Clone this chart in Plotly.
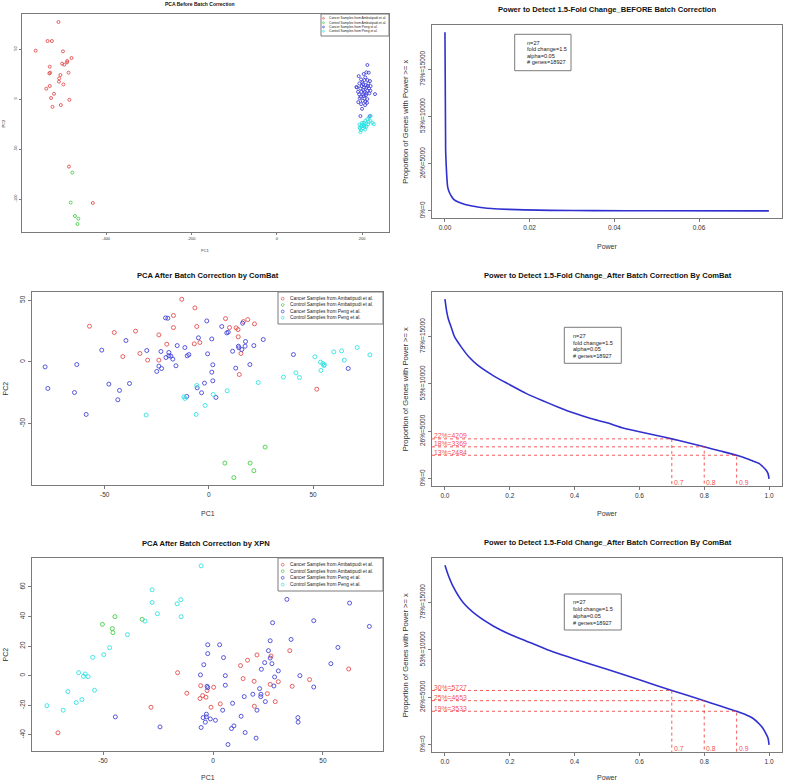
import plotly.graph_objects as go

W, H = 785, 784
FONT = "Liberation Sans"

# ---------------- data ----------------
legend_labels = ["Cancer Samples from Ambatipudi et al.", "Control Samples from Ambatipudi et al.",
                 "Cancer Samples from Peng et al.", "Control Samples from Peng et al."]
group_colors = ["rgba(228,70,70,0.85)", "rgba(60,205,60,0.85)", "rgba(60,60,215,0.85)", "rgba(40,225,225,0.85)"]

# Panel 1: PCA before batch correction
p1_ca_x = [-511.5, -537, -527, -565, -501, -481, -491, -491.5, -503, -498, -532, -488, -531, -533, -507, -510,
           -510.5, -500, -532, -540, -522, -529, -486, -506, -525.5, -487, -431]
p1_ca_y = [77, 58, 58, 48.3, 47.7, 41, 38, 36.6, 35.3, 34.3, 32.3, 26.3, 26.3, 25.6, 24, 20.6, 17.3, 14.6, 13,
           10.3, 5.2, 1, -0.8, -6, -7.8, -67.6, -104]
p1_ct_x = [-479, -483, -473, -465, -467]
p1_ct_y = [-73.6, -103.6, -117, -119.7, -125]
p1_pc_x = [212.3, 192, 203.7, 210, 215.4, 197.5, 205.3, 212.3, 218.5, 193.6, 202.2, 208.4, 213, 188, 196, 204.5,
           210, 216.2, 198.3, 206, 212.3, 219.3, 193, 202.2, 209.2, 230.2, 196.7, 205.3, 212.3, 201.4, 207.6, 191,
           197.5, 206.8, 199.8, 196, 217.8, 210, 203, 199, 214.6, 190.5, 220, 207.6, 200.6, 194.4, 211.5, 186.6,
           203.7, 217]
p1_pc_y = [34, 22.9, 25, 26.6, 26.3, 19.6, 18.9, 18.9, 17.9, 15.6, 14.9, 13.9, 12.9, 11.6, 10.6, 11.6, 11.6,
           10.6, 7.2, 7.2, 8.3, 8.3, 4.6, 4.6, 3.9, 4.9, 2.2, 0.6, -0.1, -1.8, -2.8, -3.1, -5.1, -6.1, -9.8, -17.1,
           -17.1, 5.6, 8.9, 12.9, 15.6, 7.2, 12.9, 21.6, 16.6, 0.6, -3.8, 12, 2.9, 5.6]
p1_pt_x = [220, 216.2, 212.3, 207.6, 204.5, 198.3, 194.4, 199.8, 205.3, 210, 202.2, 197.5, 196, 206.8, 213.9,
           224, 227.1, 219.3, 199.8, 203, 193.6, 209.2, 215.4, 195.1, 206]
p1_pt_y = [-16.8, -18.5, -20.1, -21.8, -23.8, -26.2, -28.5, -27.2, -26.8, -27.8, -29.5, -31.2, -33.2, -30.5,
           -25.2, -23.8, -25.2, -21.8, -23.8, -26.2, -25.5, -24.5, -22.8, -29.5, -27.8]

# Panel 3: PCA after ComBat
p3_ca_x = [-13, -6.7, -57.3, -17, 8, -45.4, -35.2, -24, -17, -5.8, 9.9, 13.1, 14, 16.6, 18.7, 21.9, 14.1, -20.2,
           -7, -4.3, -33.1, -41.3, -29.4, -24, 15.4, 14.6, 51.8]
p3_ca_y = [50.8, 43.8, 28.9, 37.6, 35.1, 23.8, 24.9, 21.9, 27.8, 28.7, 27.8, 27.6, 26.2, 32.7, 34.3, 30.8, 20.3,
           14.3, 14.6, 15.7, 6.8, 4.3, 1.4, 1.4, 6.8, -10.3, -22.2]
p3_ct_x = [27, 7.7, 19.8, 21.6, 12]
p3_ct_y = [-69.2, -82.2, -82.2, -88.4, -94]
p3_pc_x = [-78.6, -77.3, -63.4, -64.5, -58.9, -51.4, -48, -42.9, -43.7, -39.8, -38.1, -29.8, -25, -24, -22.7, -23,
           -20.6, -19.2, -19.2, -18.2, -17.3, -15.8, -15.2, -11.5, -10.4, -9.6, -20.8, -19.7, -10.6, -5, -3.5,
           -2.1, -1, -0.6, 1.4, 1.4, 1.9, 1.9, 3.4, 6.2, 8.6, 9.3, 11.4, 12.9, 14.2, 14.4, 15.8, 16.2, 17.6, 17.4,
           19.7, 21.6, 26.1, 40.6, 66.9, -5.6]
p3_pc_y = [-4.1, -21.6, -2.2, -24.9, -42.7, 9.5, -18.1, -23.2, -30.8, 17.3, -17.6, 9.2, -7.8, -3.5, -5.4, 8.4,
           3.5, 7.6, 4.9, 4.6, 2.2, -3.2, 13.2, 11.6, 4.9, 5.9, 35.7, 35.4, -28.1, 19.5, -25.1, -17.3, 33.2, 6.5,
           18.6, -8.4, -2.4, -15.4, -28.9, 28.7, 23.5, 24.1, 8.6, -5.1, 12.7, 11.4, 10, 31.4, 16.5, 12.7, -2.2,
           13.2, 18.1, 5.9, -5.4, -21.1]
p3_pt_x = [-30.1, -12, -11.5, -5.8, -6.1, 2.1, -1.8, 8.8, 23.7, 35.8, 41.8, 43.5, 50.9, 53.6, 54.7, 55.2, 53.8,
           60, 63.7, 65, 71.2, 77.3, 55.5]
p3_pt_y = [-43.2, -28.4, -29.7, -19.2, -42.7, -26.5, -35.4, -23.5, -16.8, -12.4, -8.9, -12.7, 4.1, -0.3, -1.4,
           -3, -7, 8.1, 8.9, 1.4, 11.6, 5.7, -2.4]

# Panel 5: PCA after XPN
p5_ca_x = [-70.5, -28.2, -16.1, -11.9, -5.6, -5.9, -4.7, -3.2, -2.7, 0.3, -0.9, 3.3, 12.5, 13.7, 15.7, 20, 18.7,
           18.8, 24.7, 26, 26.4, 28.3, 29.7, 34.9, 36, 43.9, 61.7]
p5_ca_y = [-38.7, -21.4, 2, -11.9, -6.8, -15.5, -13.5, -14.6, -10.1, -7.9, -21.4, -19.1, 6.8, -2, 10.4, 14, -3.8,
           -20.7, -12.2, -5.9, 13.3, -17.6, -4.1, 16.9, -7.2, -2.7, 4.5]
p5_ct_x = [-50.3, -44.6, -45.8, -45.5, -32.2]
p5_ct_y = [34.7, 39.9, 31.8, 29.1, 38.1]
p5_pc_x = [-44.4, -24.1, -5.4, -5.7, -4.2, -2.4, -2.4, -2.7, -2.4, -3, -3, -4.5, -3.5, -1.2, 1.1, 3, 4.8, 5.6,
           5.6, 4.4, 6.8, 8.4, 8.9, 9.5, 12.8, 14.2, 14.6, 18.1, 19.6, 20, 21.2, 21.7, 21.8, 22, 23.5, 23.8, 25.2,
           26, 26, 26.8, 27.1, 28, 27.7, 29.7, 33.6, 35.5, 38.6, 38.7, 39.5, 45.8, 45.8, 56.8, 53.6, 62.1, 71.1]
p5_pc_y = [-27.9, -34.7, -35.1, 0.5, 7.4, 14.9, 20.9, -7.2, -8.1, -26.1, -27.9, -28.4, -31.5, -29.3, -30.2, 20.9,
           12.2, 0, -6.5, -23.4, -46.6, -35.8, -18.7, -34, -27.5, -14.2, -38.5, -12.6, -42.3, -23.4, -8.8, -14.2,
           -12.6, 4.3, 8.8, -17.6, 16.9, 23.6, 11.9, 8.1, 35.8, -0.9, -7, 3.2, 51.6, 24.5, -28.4, -31.5, 0, 37.2,
           -7.7, 19.1, 8.1, 49.1, 33.3]
p5_pt_x = [-5.4, -27.7, -27.7, -14.6, -16.3, -14.5, -25.3, -30.9, -38.9, -47, -49.7, -54.7, -61.1, -58.1, -58.9,
           -56.8, -53.9, -66, -62.2, -59.6, -75.5, -68.1]
p5_pt_y = [74.3, 58.1, 49.5, 51.4, 48.6, 39.9, 41.9, 36.9, 27.7, 18.9, 14.2, 12.4, 2, 1.1, -0.5, -0.7, -9.9,
           -10.8, -18.2, -16.2, -20.3, -23.4]

# Power curves: number of genes with power >= x
p2_power = [0, 0.00016, 0.00024, 0.0004, 0.00063, 0.001, 0.00157, 0.002, 0.003, 0.0039, 0.005, 0.0071, 0.009,
            0.011, 0.015, 0.0188, 0.025, 0.035, 0.05, 0.0765]
p2_genes = [18927, 6459, 5400, 3900, 2576, 2000, 1518, 1250, 960, 812, 650, 459, 330, 247, 160, 106, 55, 25, 8, 0]

p4_power = [0, 0.005, 0.01, 0.02, 0.029, 0.05, 0.075, 0.1, 0.15, 0.195, 0.25, 0.3, 0.35, 0.4, 0.45, 0.5, 0.55,
            0.6, 0.65, 0.7, 0.75, 0.8, 0.85, 0.9, 0.93, 0.95, 0.97, 0.98, 0.99, 0.997, 1.0]
p4_genes = [18927, 17700, 16900, 15900, 15000, 13900, 12800, 12000, 10850, 10000, 9000, 8250, 7550, 6900, 6350,
            5900, 5350, 4950, 4600, 4209, 3800, 3369, 2930, 2484, 2150, 1880, 1600, 1300, 950, 550, 0]

p6_power = [0, 0.01, 0.025, 0.056, 0.1, 0.15, 0.2, 0.25, 0.318, 0.4, 0.5, 0.6, 0.7, 0.8, 0.9, 0.93, 0.95, 0.97,
            0.98, 0.99, 0.997, 1.0]
p6_genes = [18927, 17900, 16700, 15000, 13600, 12500, 11650, 10950, 10000, 9050, 7950, 6850, 5727, 4653, 3533,
            3150, 2800, 2200, 1800, 1200, 700, 0]

p4_cut_power = [0.7, 0.8, 0.9]
p4_cut_genes = [4209, 3369, 2484]
p4_cut_labels = ["22%=4209", "18%=3369", "13%=2484"]
p6_cut_power = [0.7, 0.8, 0.9]
p6_cut_genes = [5727, 4653, 3533]
p6_cut_labels = ["30%=5727", "25%=4653", "19%=3533"]

power_yticks = [0, 5000, 10000, 15000]
power_yticklabels = ["0%=0", "26%=5000", "53%=10000", "79%=15000"]
info_lines = ["n=27", "fold change=1.5", "alpha=0.05", "# genes=18927"]

titles = ["PCA Before Batch Correction",
          "Power to Detect 1.5-Fold Change_BEFORE Batch Correction",
          "PCA After Batch Correction by ComBat",
          "Power to Detect 1.5-Fold Change_After Batch Correction By ComBat",
          "PCA After Batch Correction by XPN",
          "Power to Detect 1.5-Fold Change_After Batch Correction By ComBat"]


# ---------------- helpers ----------------
def fx(px):
    return px / W


def fy(py):
    return 1 - py / H


fig = go.Figure()
annotations = []
shapes = []

FRAME = "#7a7a7a"
TICKC = "#333333"
CURVE = "#3030d0"
RED = "rgba(240,40,40,0.85)"

# plot boxes in pixels (left, right, top, bottom)
boxes = {
    1: (22, 389, 14, 232),
    2: (432, 782, 25, 218),
    3: (32, 383, 292, 485),
    4: (432, 782, 292, 486),
    5: (32, 383, 558, 751),
    6: (432, 782, 558, 752),
}
ranges = {
    1: ([-597, 263], [-133, 85]),
    2: ([-0.00306, 0.0796], [-757, 19684]),
    3: ([-84.9, 83.6], [-100, 56.7]),
    4: ([-0.04, 1.04], [-757, 19684]),
    5: ([-82.3, 77.3], [-51, 79.6]),
    6: ([-0.04, 1.04], [-757, 19684]),
}
xticks = {
    1: ([-400, -200, 0, 200], ["-400", "-200", "0", "200"]),
    2: ([0, 0.02, 0.04, 0.06], ["0.00", "0.02", "0.04", "0.06"]),
    3: ([-50, 0, 50], ["-50", "0", "50"]),
    4: ([0, 0.2, 0.4, 0.6, 0.8, 1.0], ["0.0", "0.2", "0.4", "0.6", "0.8", "1.0"]),
    5: ([-50, 0, 50], ["-50", "0", "50"]),
    6: ([0, 0.2, 0.4, 0.6, 0.8, 1.0], ["0.0", "0.2", "0.4", "0.6", "0.8", "1.0"]),
}
yticks = {
    1: ([-100, -50, 0, 50], ["-100", "-50", "0", "50"]),
    2: (power_yticks, power_yticklabels),
    3: ([-50, 0, 50], ["-50", "0", "50"]),
    4: (power_yticks, power_yticklabels),
    5: ([-40, -20, 0, 20, 40, 60], ["-40", "-20", "0", "20", "40", "60"]),
    6: (power_yticks, power_yticklabels),
}

layout_axes = {}
for i in range(1, 7):
    l, r, t, b = boxes[i]
    fs = 4 if i == 1 else 6.5
    tl = 2 if i == 1 else 3
    xs = "" if i == 1 else str(i)
    layout_axes["xaxis" + xs] = dict(
        domain=[fx(l), fx(r)], range=ranges[i][0], anchor="y" + xs,
        tickvals=xticks[i][0], ticktext=xticks[i][1], tickfont=dict(size=fs, color=TICKC, family=FONT),
        showline=True, mirror=True, linecolor=FRAME, linewidth=1, ticks="outside", ticklen=tl,
        tickcolor=FRAME, showgrid=False, zeroline=False)
    layout_axes["yaxis" + xs] = dict(
        domain=[fy(b), fy(t)], range=ranges[i][1], anchor="x" + xs,
        tickvals=yticks[i][0], ticktext=yticks[i][1], tickfont=dict(size=fs, color=TICKC, family=FONT),
        tickangle=-90,
        showline=True, mirror=True, linecolor=FRAME, linewidth=1, ticks="outside", ticklen=tl,
        tickcolor=FRAME, showgrid=False, zeroline=False)


def txt(text, x, y, size, color="#222222", bold=False, angle=0, xanchor="center", yanchor="middle",
        xref="paper", yref="paper", yshift=0):
    if xref == "paper":
        x = fx(x)
    if yref == "paper":
        y = fy(y)
    annotations.append(dict(
        text="<b>%s</b>" % text if bold else text, x=x, y=y, xref=xref, yref=yref, showarrow=False,
        xanchor=xanchor, yanchor=yanchor, textangle=angle, yshift=yshift,
        font=dict(size=size, color=color, family=FONT)))


# ---------------- PCA scatter traces ----------------
pca_sets = {
    1: [(p1_ca_x, p1_ca_y), (p1_ct_x, p1_ct_y), (p1_pc_x, p1_pc_y), (p1_pt_x, p1_pt_y)],
    3: [(p3_ca_x, p3_ca_y), (p3_ct_x, p3_ct_y), (p3_pc_x, p3_pc_y), (p3_pt_x, p3_pt_y)],
    5: [(p5_ca_x, p5_ca_y), (p5_ct_x, p5_ct_y), (p5_pc_x, p5_pc_y), (p5_pt_x, p5_pt_y)],
}
for i, sets in pca_sets.items():
    xs = "" if i == 1 else str(i)
    msize = 3 if i == 1 else 4
    for (xv, yv), col, name in zip(sets, group_colors, legend_labels):
        fig.add_trace(go.Scatter(
            x=xv, y=yv, mode="markers", name=name, showlegend=False,
            xaxis="x" + xs, yaxis="y" + xs,
            marker=dict(symbol="circle-open", size=msize, color=col, line=dict(width=1, color=col))))

# PCA legends (drawn as box + symbols + text)
pca_legends = {
    1: dict(box=(321, 389, 14, 36), rows=[18.3, 22.7, 27, 31.3], sx=323.5, tx=326.5, fs=3.3, r=0.9),
    3: dict(box=(278, 383, 292, 324), rows=[298.7, 305, 311.5, 317.7], sx=282.7, tx=287.5, fs=4.8, r=1.4),
    5: dict(box=(278, 383, 558, 591), rows=[564.7, 571.2, 577.8, 584.5], sx=282.7, tx=287.5, fs=4.8, r=1.4),
}
for i, lg in pca_legends.items():
    l, r, t, b = lg["box"]
    shapes.append(dict(type="rect", xref="paper", yref="paper", x0=fx(l), x1=fx(r), y0=fy(b), y1=fy(t),
                       line=dict(color=FRAME, width=1), fillcolor="white", layer="above"))
    for row, col, name in zip(lg["rows"], group_colors, legend_labels):
        rr = lg["r"]
        shapes.append(dict(type="circle", xref="paper", yref="paper",
                           x0=fx(lg["sx"] - rr), x1=fx(lg["sx"] + rr), y0=fy(row + rr), y1=fy(row - rr),
                           line=dict(color=col, width=0.8), layer="above"))
        txt(name, lg["tx"], row, lg["fs"], color="#222222", xanchor="left")

# ---------------- power curves ----------------
curves = {2: (p2_power, p2_genes), 4: (p4_power, p4_genes), 6: (p6_power, p6_genes)}
for i, (xv, yv) in curves.items():
    fig.add_trace(go.Scatter(x=xv, y=yv, mode="lines", showlegend=False, xaxis="x%d" % i, yaxis="y%d" % i,
                             line=dict(color=CURVE, width=1.6, shape="spline", smoothing=0.6)))

cuts = {4: (p4_cut_power, p4_cut_genes, p4_cut_labels), 6: (p6_cut_power, p6_cut_genes, p6_cut_labels)}
for i, (pw, gn, lab) in cuts.items():
    xlo = ranges[i][0][0]
    ylo = ranges[i][1][0]
    for p, g, s in zip(pw, gn, lab):
        fig.add_trace(go.Scatter(x=[xlo, p, p], y=[g, g, ylo], mode="lines", showlegend=False,
                                 xaxis="x%d" % i, yaxis="y%d" % i,
                                 line=dict(color=RED, width=0.9, dash="dot")))
        txt(s, xlo, g, 6.8, color=RED, xanchor="left", xref="x%d" % i, yref="y%d" % i, yshift=3)
        txt("%.1f" % p, p, -410, 6.8, color=RED, xanchor="left", xref="x%d" % i, yref="y%d" % i)

# info boxes
info_boxes = {
    2: dict(box=(514.7, 571, 34.3, 70.7), tx=524.5, rows=[42.8, 49.2, 55.8, 62.5]),
    4: dict(box=(564.3, 621.3, 327.3, 363.3), tx=571.3, rows=[336, 342.7, 349.3, 356.3]),
    6: dict(box=(564.3, 621.3, 594, 630), tx=571.3, rows=[601.7, 608.5, 615.5, 622.5]),
}
for i, ib in info_boxes.items():
    l, r, t, b = ib["box"]
    shapes.append(dict(type="rect", xref="paper", yref="paper", x0=fx(l), x1=fx(r), y0=fy(b), y1=fy(t),
                       line=dict(color=FRAME, width=1), fillcolor="rgba(0,0,0,0)", layer="above"))
    for row, s in zip(ib["rows"], info_lines):
        txt(s, ib["tx"], row, 5.6, color="#222222", xanchor="left")

# ---------------- titles and axis labels ----------------
title_pos = [(200, 4.3, 5), (607.7, 9.3, 7.6), (207.5, 275.7, 7.6), (608.3, 275.7, 7.6), (206, 543.3, 7.6),
             (608.3, 542.7, 7.6)]
for (x, y, s), t in zip(title_pos, titles):
    txt(t, x, y, s, color="#111111", bold=True)

# x labels
txt("PC1", 205.5, 250, 4, color=TICKC)
txt("Power", 607, 246.7, 7, color=TICKC)
txt("PC1", 207.5, 513.3, 7, color=TICKC)
txt("Power", 607, 513.3, 7, color=TICKC)
txt("PC1", 207.5, 777.2, 7, color=TICKC)
txt("Power", 607, 777.8, 7, color=TICKC)
# y labels
txt("PC2", 3.5, 123, 4, color=TICKC, angle=-90)
txt("Proportion of Genes with Power >= x", 405.3, 121.5, 7.6, color=TICKC, angle=-90)
txt("PC2", 5, 388.5, 7, color=TICKC, angle=-90)
txt("Proportion of Genes with Power >= x", 405.3, 389, 7.6, color=TICKC, angle=-90)
txt("PC2", 5, 654.5, 7, color=TICKC, angle=-90)
txt("Proportion of Genes with Power >= x", 405.3, 655, 7.6, color=TICKC, angle=-90)

fig.update_layout(
    width=W, height=H, margin=dict(l=0, r=0, t=0, b=0),
    paper_bgcolor="white", plot_bgcolor="white", showlegend=False,
    font=dict(family=FONT),
    annotations=annotations, shapes=shapes, **layout_axes)

fig.write_html("out.html", config={"displayModeBar": False},
               post_script="document.body.style.margin='0px';document.body.style.padding='0px';"
               "document.documentElement.style.overflow='hidden';")
